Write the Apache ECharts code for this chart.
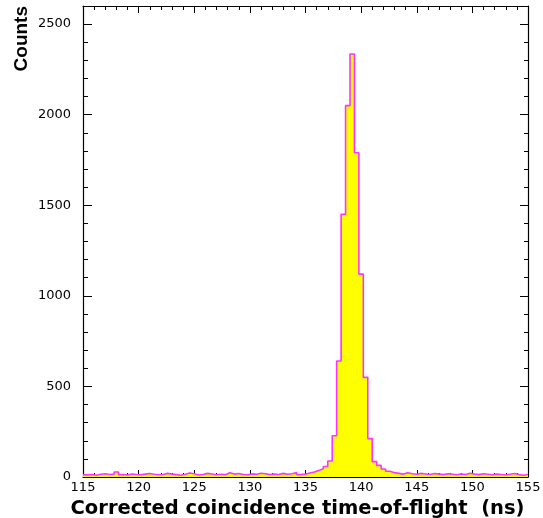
<!DOCTYPE html>
<html>
<head>
<meta charset="utf-8">
<script src="https://cdn.jsdelivr.net/npm/echarts@6/dist/echarts.min.js"></script>
<style>
  html, body { margin: 0; padding: 0; background: #fff; }
  #chart { width: 543px; height: 518px; }
</style>
</head>
<body>
<div id="chart"></div>
<script>
// Histogram binning (ns)
const binStart = 115;
const binWidth = 0.4;

// Counts per 0.4 ns bin, 115 ns .. 155 ns
const counts = [
  12, 14, 10, 15, 18, 14, 16, 28, 13, 11,
  17, 14, 12, 16, 19, 15, 12, 14, 20, 16,
  13, 10, 15, 22, 18, 11, 14, 20, 17, 12,
  15, 13, 24, 16, 19, 14, 12, 17, 15, 21,
  18, 13, 16, 14, 20, 15, 18, 25, 13, 16,
  22, 28, 36, 45, 58, 88, 228, 640, 1450, 2050,
  2335, 1790, 1120, 550, 212, 85, 64, 44, 32, 24,
  20, 16, 23, 18, 15, 20, 17, 14, 19, 16,
  13, 18, 15, 12, 17, 14, 21, 16, 13, 18,
  15, 12, 16, 14, 11, 15, 19, 13, 10, 14
];

// Axis tick labels
const xTicks = [115, 120, 125, 130, 135, 140, 145, 150, 155];
const yTicks = [0, 500, 1000, 1500, 2000, 2500];

// Step outline points: each bin's lower edge, plus the closing upper edge
const stepData = counts.map((c, i) => [binStart + i * binWidth, c]);
stepData.push([binStart + counts.length * binWidth, counts[counts.length - 1]]);

const labelFont = '"DejaVu Sans", Arial, sans-serif';
const titleFont = '"Liberation Sans", Arial, Helvetica, sans-serif';
const xMin = xTicks[0], xMax = xTicks[xTicks.length - 1];
const plain = v => String(v);

const chart = echarts.init(document.getElementById('chart'), null, { renderer: 'canvas' });

const frameLine = { show: true, onZero: false, lineStyle: { color: '#000', width: 1.2 } };

chart.setOption({
  animation: false,
  backgroundColor: '#fff',
  grid: { left: 83, right: 15, top: 6, bottom: 41, containLabel: false, outerBoundsMode: 'none' },
  xAxis: [
    {
      type: 'value', position: 'bottom', min: xMin, max: xMax, interval: 5,
      axisLine: frameLine,
      axisTick: { show: true, inside: true, length: 7, lineStyle: { color: '#000' } },
      minorTick: { show: true, splitNumber: 5, length: 4, lineStyle: { color: '#000' } },
      splitLine: { show: false },
      axisLabel: {
        show: true, margin: 4, color: '#000', fontFamily: labelFont, fontSize: 13,
        customValues: xTicks, formatter: plain
      },
      name: 'Corrected coincidence time-of-flight  (ns)',
      nameLocation: 'middle', nameGap: 18,
      nameTextStyle: {
        fontFamily: '"DejaVu Sans", sans-serif', fontWeight: 'bold', fontSize: 19.5, color: '#000',
        padding: [0, 16, 0, 0]
      }
    },
    {
      type: 'value', position: 'top', min: xMin, max: xMax, interval: 5,
      axisLine: frameLine,
      axisTick: { show: true, inside: true, length: 7, lineStyle: { color: '#000' } },
      minorTick: { show: true, splitNumber: 5, length: 4, lineStyle: { color: '#000' } },
      splitLine: { show: false },
      axisLabel: { show: false }
    }
  ],
  yAxis: [
    {
      type: 'value', position: 'left', min: 0, max: 2600, interval: 500,
      axisLine: frameLine,
      axisTick: { show: true, inside: true, length: 9, lineStyle: { color: '#000' },
                  customValues: yTicks },
      minorTick: { show: true, splitNumber: 5, length: 5, lineStyle: { color: '#000' } },
      splitLine: { show: false },
      axisLabel: {
        show: true, margin: 12, color: '#000', fontFamily: labelFont, fontSize: 13,
        customValues: yTicks, formatter: plain
      },
      name: 'Counts',
      nameLocation: 'end', nameRotate: 90, nameGap: 0,
      nameTextStyle: {
        fontFamily: titleFont, fontWeight: 'bold', fontSize: 19, color: '#000',
        align: 'right', verticalAlign: 'bottom', padding: [0, 0, 52, 0]
      }
    },
    {
      type: 'value', position: 'right', min: 0, max: 2600, interval: 500,
      axisLine: frameLine,
      axisTick: { show: true, inside: true, length: 8, lineStyle: { color: '#000' },
                  customValues: yTicks },
      minorTick: { show: true, splitNumber: 5, length: 4, lineStyle: { color: '#000' } },
      splitLine: { show: false },
      axisLabel: { show: false }
    }
  ],
  series: [
    {
      type: 'line',
      xAxisIndex: 0, yAxisIndex: 0,
      data: stepData,
      step: 'end',
      symbol: 'none',
      lineStyle: { color: '#ff33ff', width: 1.6 },
      areaStyle: { color: '#ffff00', opacity: 1, origin: 'start' },
      z: 1
    }
  ]
});
</script>
</body>
</html>
